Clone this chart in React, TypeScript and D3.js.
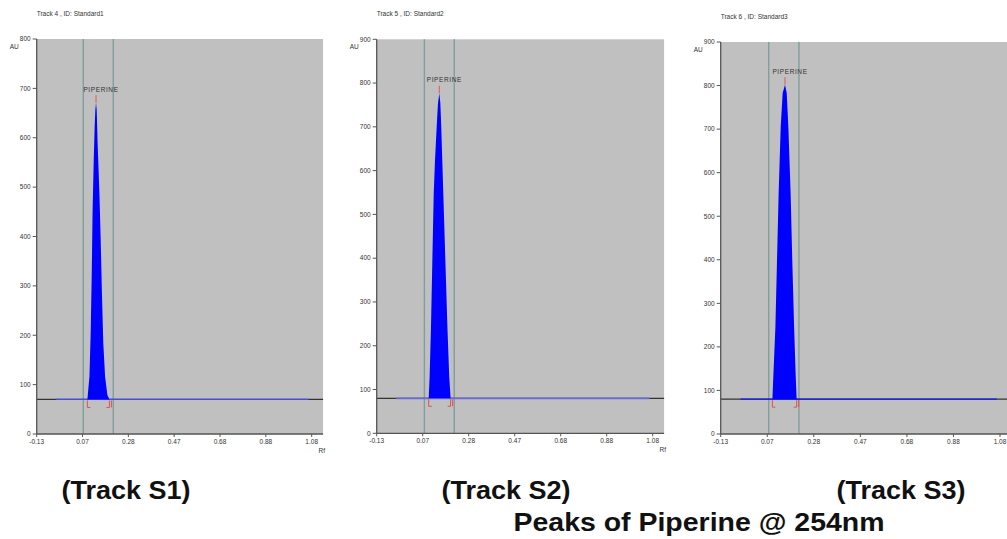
import React from 'react';
import * as d3 from 'd3';

// axis labels as printed by the densitometer software
const xTickLabels = ['-0.13', '0.07', '0.28', '0.47', '0.68', '0.88', '1.08'];
const xTickValues = [-0.13, 0.0717, 0.2733, 0.475, 0.6767, 0.8783, 1.08];
const xDomainEnd = 1.13;

const trackTitles = ['Track  4 , ID: Standard1', 'Track  5 , ID: Standard2', 'Track  6 , ID: Standard3'];
const trackLabels = ['(Track S1)', '(Track S2)', '(Track S3)'];
const footerTitle = 'Peaks of Piperine @ 254nm';
const peakName = 'PIPERINE';

const yMax = [800, 900, 900];
const baselineAU = [70, 80, 80];
const baselineBlueRf = [-0.044, 1.066];
const windowRf = [[0.075, 0.207], [0.079, 0.21], [0.078, 0.209]];

// peak profiles (Rf, AU)
const peak1Rf = [0.093, 0.102, 0.1075, 0.112, 0.116, 0.121, 0.125, 0.128, 0.131, 0.134, 0.138, 0.146, 0.152, 0.157, 0.163, 0.171, 0.181, 0.19];
const peak1AU = [70, 116, 204, 319, 454, 555, 622, 656, 671, 656, 589, 487, 386, 285, 184, 116, 79, 70];
const peak2Rf = [0.098, 0.102, 0.108, 0.114, 0.12, 0.1256, 0.133, 0.1387, 0.1446, 0.149, 0.153, 0.162, 0.171, 0.18, 0.188, 0.194];
const peak2AU = [80, 129, 243, 396, 548, 624, 700, 754, 777, 754, 700, 548, 396, 243, 129, 80];
const peak3Rf = [0.094, 0.098, 0.107, 0.114, 0.121, 0.13, 0.1385, 0.1486, 0.156, 0.163, 0.173, 0.18, 0.188, 0.195, 0.199];
const peak3AU = [80, 132, 246, 400, 553, 706, 783, 802, 783, 706, 553, 400, 246, 132, 80];

const peaks = [
  peak1Rf.map((r, i) => ({ rf: r, au: peak1AU[i] })),
  peak2Rf.map((r, i) => ({ rf: r, au: peak2AU[i] })),
  peak3Rf.map((r, i) => ({ rf: r, au: peak3AU[i] })),
];

// pixel frames of the three panels
const frames = [
  { x0: 36.7, x1: 311.7, top: 39, bottom: 434, titleY: 16, blue: '#4a4ae6', blueW: 1.2 },
  { x0: 376.7, x1: 652.7, top: 39.3, bottom: 433.3, titleY: 16, blue: '#6a6ad8', blueW: 1.8 },
  { x0: 720.7, x1: 1000, top: 42, bottom: 434, titleY: 19.3, blue: '#1a1af5', blueW: 1.2 },
];
const labelX = [126, 506, 901];

const tiny = { fontFamily: 'Liberation Sans, Arial, sans-serif', fontSize: 6.5, fill: '#333' };

const Panel = ({ idx }: { idx: number }) => {
  const f = frames[idx];
  const x = d3.scaleLinear().domain([-0.13, 1.08]).range([f.x0, f.x1]);
  const y = d3.scaleLinear().domain([0, yMax[idx]]).range([f.bottom, f.top]);
  const right = x(xDomainEnd);
  const base = baselineAU[idx];
  const data = peaks[idx];
  const area = d3.area<{ rf: number; au: number }>()
    .x(d => x(d.rf))
    .y0(y(base))
    .y1(d => y(d.au));
  const top = data.reduce((a, b) => (b.au > a.au ? b : a));
  const first = data[0];
  const last = data[data.length - 1];
  const yTicks = d3.range(0, yMax[idx] + 1, 100);
  const by = y(base);

  return (
    <g>
      <text x={f.x0} y={f.titleY} {...tiny}>{trackTitles[idx]}</text>
      <rect x={f.x0} y={f.top} width={right - f.x0} height={f.bottom - f.top} fill="#c0c0c0" />
      {windowRf[idx].map((w, i) => (
        <line key={i} x1={x(w)} x2={x(w)} y1={f.top} y2={f.bottom} stroke="#7e9f9c" strokeWidth={1.4} />
      ))}
      <line x1={f.x0} x2={right} y1={by} y2={by} stroke="#333" strokeWidth={1.3} />
      <line x1={x(baselineBlueRf[0])} x2={x(baselineBlueRf[1])} y1={by} y2={by} stroke={f.blue} strokeWidth={f.blueW} />
      <path d={area(data) || ''} fill="#0000ff" />
      <line x1={x(top.rf)} x2={x(top.rf)} y1={y(top.au)} y2={y(top.au) - 7.5} stroke="#e06666" strokeWidth={1.2} />
      <text x={x(top.rf) + 5} y={y(top.au) - 11} textAnchor="middle" {...tiny} letterSpacing={0.6}>{peakName}</text>
      {/* integration brackets */}
      <path d={`M${x(first.rf) + 3},${by + 8} H${x(first.rf)} V${by + 1}`} fill="none" stroke="#e05050" strokeWidth={1} />
      <path d={`M${x(last.rf) - 3},${by + 8} H${x(last.rf)} V${by + 1} M${x(last.rf) + 2},${by + 8} V${by + 1}`} fill="none" stroke="#e05050" strokeWidth={1} />
      {/* axes */}
      <line x1={f.x0} x2={f.x0} y1={f.top} y2={f.bottom} stroke="#555" strokeWidth={1.3} />
      <line x1={f.x0} x2={right} y1={f.bottom} y2={f.bottom} stroke="#555" strokeWidth={1.3} />
      {yTicks.map(t => (
        <g key={t}>
          <line x1={f.x0 - 4} x2={f.x0} y1={y(t)} y2={y(t)} stroke="#555" />
          <text x={f.x0 - 6} y={y(t) + 2.3} textAnchor="end" {...tiny}>{t}</text>
        </g>
      ))}
      {xTickValues.map((t, i) => (
        <g key={t}>
          <line x1={x(t)} x2={x(t)} y1={f.bottom} y2={f.bottom + 3} stroke="#555" />
          <text x={x(t)} y={f.bottom + 9.5} textAnchor="middle" {...tiny}>{xTickLabels[i]}</text>
        </g>
      ))}
      <text x={f.x0 - 27} y={f.top + 10} {...tiny}>AU</text>
      <text x={right + 2} y={f.bottom + 19} textAnchor="end" {...tiny}>Rf</text>
    </g>
  );
};

export default function App() {
  const bold = { fontFamily: 'Liberation Sans, Arial, sans-serif', fontWeight: 700, fill: '#111' };
  return (
    <svg width={1007} height={539} style={{ position: 'absolute', left: 0, top: 0, background: '#fff' }}>
      {[0, 1, 2].map(i => <Panel key={i} idx={i} />)}
      {trackLabels.map((t, i) => (
        <text key={t} x={labelX[i]} y={499} textAnchor="middle" fontSize={26} textLength={129} lengthAdjust="spacingAndGlyphs" {...bold}>{t}</text>
      ))}
      <text x={699} y={531} textAnchor="middle" fontSize={26} textLength={371} lengthAdjust="spacingAndGlyphs" {...bold}>{footerTitle}</text>
    </svg>
  );
}
